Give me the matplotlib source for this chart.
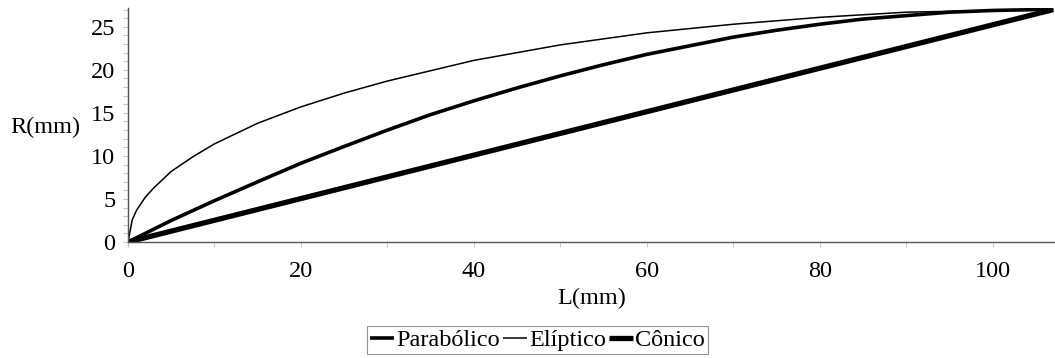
import matplotlib.pyplot as plt
from matplotlib.ticker import MultipleLocator

# DATOS

L_parabolico = [0, 5, 10, 15, 20, 25, 30, 35, 40, 45, 50, 55, 60,
                65, 70, 75, 80, 85, 90, 95, 100, 105, 107]
R_parabolico = [0, 2.5, 4.8, 7.0, 9.15, 11.1, 13.0, 14.8, 16.4, 17.9,
                19.3, 20.6, 21.8, 22.8, 23.8, 24.6, 25.3, 25.9, 26.3,
                26.7, 26.9, 27.0, 27.0]

L_eliptico = [0, 0.5, 1, 2, 3, 5, 7.5, 10, 15, 20, 25, 30, 40, 50,
              60, 70, 80, 90, 100, 107]
R_eliptico = [0, 2.6, 3.7, 5.2, 6.3, 8.2, 9.9, 11.4, 13.8, 15.7, 17.3,
              18.7, 21.1, 22.9, 24.3, 25.3, 26.1, 26.7, 26.9, 27.0]

L_conico = [0, 107]
R_conico = [0, 27.0]


# FIGURA

TAM = 17.5

plt.rcParams["font.family"] = ["Liberation Serif", "DejaVu Serif"]
plt.rcParams["font.size"] = TAM

fig = plt.figure(figsize=(10.55, 3.58), dpi=100)
ax = fig.add_axes([0.1213, 0.324, 0.8787, 0.654])

ax.plot(L_parabolico, R_parabolico, color="black", lw=2.6,
        label="Parabólico", solid_capstyle="butt")
ax.plot(L_eliptico, R_eliptico, color="black", lw=1.1,
        label="Elíptico", solid_capstyle="butt")
ax.plot(L_conico, R_conico, color="black", lw=3.8,
        label="Cônico", solid_capstyle="butt")

ax.set_xlim(0, 107.2)
ax.set_ylim(0, 27.2)

ax.xaxis.set_major_locator(MultipleLocator(20))
ax.xaxis.set_minor_locator(MultipleLocator(10))
ax.yaxis.set_major_locator(MultipleLocator(5))
ax.yaxis.set_minor_locator(MultipleLocator(1))

ax.tick_params(which="both", direction="out", color="#c8c8c8",
               length=3.6, width=0.8)
ax.tick_params(axis="x", which="major", pad=10)
ax.tick_params(axis="y", which="major", pad=5.5)
ax.tick_params(labelsize=TAM)

for lado in ["top", "right"]:
    ax.spines[lado].set_visible(False)
for lado in ["left", "bottom"]:
    ax.spines[lado].set_color("#555555")
    ax.spines[lado].set_linewidth(1.0)

fig.text(0.043, 0.643, "R(mm)", ha="center", va="center", fontsize=TAM)
fig.text(0.561, 0.165, "L(mm)", ha="center", va="center", fontsize=TAM)

leg = fig.legend(loc="center", bbox_to_anchor=(0.5095, 0.050), ncol=3,
                 frameon=True, fancybox=False, handlelength=1.0,
                 handletextpad=0.1, columnspacing=0.1, borderpad=0.12,
                 borderaxespad=0, fontsize=TAM)
leg.get_frame().set_edgecolor("#777777")
leg.get_frame().set_linewidth(0.8)

fig.savefig("out.png", dpi=100)
